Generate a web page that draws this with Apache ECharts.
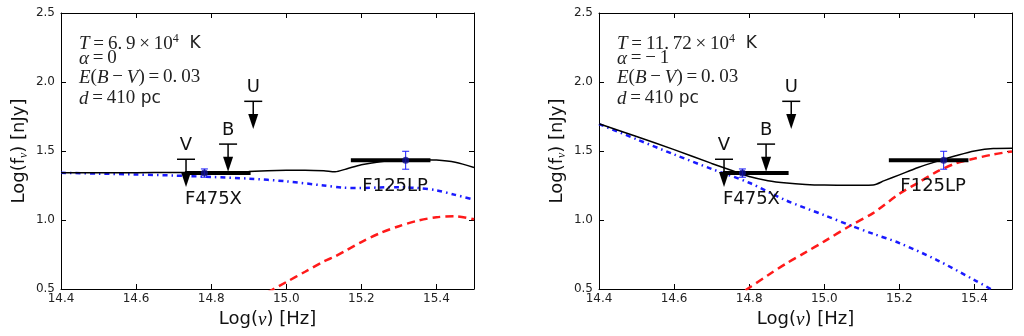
<!DOCTYPE html>
<html>
<head>
<meta charset="utf-8">
<script src="https://cdn.jsdelivr.net/npm/echarts@6/dist/echarts.min.js"></script>
<style>
  html, body { margin: 0; padding: 0; background: #fff; }
  #chart { width: 1024px; height: 336px; }
</style>
</head>
<body>
<div id="chart"></div>
<script>
// ---- Model A: T = 6.9e4 K, alpha = 0 (log10 nu [Hz], log10 f_nu [nJy]) ----
const nuTotalA   = [14.4, 14.5, 14.6, 14.7, 14.8, 14.9, 15.0, 15.05, 15.1, 15.13, 15.16, 15.2, 15.25, 15.3, 15.35, 15.4, 15.45, 15.5];
const fluxTotalA = [1.342, 1.342, 1.343, 1.344, 1.346, 1.352, 1.36, 1.361, 1.357, 1.35, 1.37, 1.40, 1.422, 1.433, 1.437, 1.434, 1.418, 1.38];
const nuPowA     = [14.4, 14.5, 14.6, 14.7, 14.8, 14.9, 15.0, 15.1, 15.15, 15.2, 15.25, 15.3, 15.35, 15.4, 15.45, 15.5];
const fluxPowA   = [1.342, 1.336, 1.33, 1.322, 1.312, 1.30, 1.28, 1.25, 1.235, 1.232, 1.236, 1.238, 1.232, 1.215, 1.182, 1.148];
const nuBbA      = [14.95, 15.0, 15.05, 15.1, 15.13, 15.16, 15.2, 15.25, 15.3, 15.35, 15.4, 15.45, 15.5];
const fluxBbA    = [0.475, 0.55, 0.625, 0.70, 0.736, 0.78, 0.84, 0.905, 0.955, 0.995, 1.02, 1.027, 1.005];

// ---- Model B: T = 11.72e4 K, alpha = -1 ----
const nuTotalB   = [14.4, 14.5, 14.6, 14.7, 14.75, 14.8, 14.85, 14.9, 14.95, 15.0, 15.05, 15.1, 15.13, 15.16, 15.2, 15.25, 15.3, 15.35, 15.4, 15.45, 15.5];
const fluxTotalB = [1.698, 1.605, 1.51, 1.41, 1.362, 1.315, 1.285, 1.268, 1.258, 1.253, 1.252, 1.252, 1.254, 1.285, 1.327, 1.38, 1.425, 1.465, 1.50, 1.518, 1.52];
const nuPowB     = [14.4, 14.5, 14.6, 14.7, 14.8, 14.9, 15.0, 15.07, 15.13, 15.2, 15.3, 15.4, 15.45];
const fluxPowB   = [1.695, 1.585, 1.475, 1.37, 1.27, 1.14, 1.035, 0.96, 0.90, 0.833, 0.71, 0.565, 0.49];
const nuBbB      = [14.79, 14.85, 14.9, 14.95, 15.0, 15.07, 15.13, 15.2, 15.25, 15.3, 15.35, 15.4, 15.45, 15.5];
const fluxBbB    = [0.49, 0.60, 0.687, 0.765, 0.845, 0.96, 1.05, 1.19, 1.27, 1.35, 1.41, 1.445, 1.475, 1.497];

// ---- Photometry (shared by both panels) ----
const limitBands = ['V', 'B', 'U'];
const limitNu    = [14.733, 14.845, 14.912];
const limitFlux  = [1.44, 1.55, 1.86];
const limitDrop  = 0.2;                      // arrow length, dex

const detBands   = ['F475X', 'F125LP'];
const detNu      = [14.782, 15.318];
const detFlux    = [1.34, 1.433];
const detErr     = [0.03, 0.065];
const detNuLo    = [14.73, 15.172];          // filter bandwidth
const detNuHi    = [14.905, 15.384];
const detLabelNu   = [14.806, 15.29];
const detLabelFlux = [1.147, 1.243];

// ---- Fit parameters per panel ----
const panelTemp  = ['6.9', '11.72'];
const panelAlpha = ['0', '\u2212\u20091'];
const panelEbv   = ['0.03', '0.03'];
const panelDist  = ['410', '410'];

const zip = (xs, ys) => xs.map((x, i) => [x, ys[i]]);

const grids = [
  { left: 61, top: 13, width: 413, height: 276 },
  { left: 599, top: 13, width: 413, height: 276 }
];

const panels = [
  { total: zip(nuTotalA, fluxTotalA), pow: zip(nuPowA, fluxPowA), bb: zip(nuBbA, fluxBbA) },
  { total: zip(nuTotalB, fluxTotalB), pow: zip(nuPowB, fluxPowB), bb: zip(nuBbB, fluxBbB) }
];

const tickFont = { fontFamily: 'DejaVu Sans', fontSize: 12, color: '#222' };
const axisLineStyle = { lineStyle: { color: '#000', width: 1 } };
const tickStyle = { inside: true, length: 5, lineStyle: { color: '#000', width: 1 } };
const fmt = v => Number(v).toFixed(1);

const xAxes = [], yAxes = [];
// bottom / left axes with labels
grids.forEach((g, i) => {
  xAxes.push({
    type: 'value', gridIndex: i, min: 14.4, max: 15.5, interval: 0.2,
    position: 'bottom',
    axisLine: axisLineStyle, axisTick: tickStyle, splitLine: { show: false },
    axisLabel: Object.assign({ formatter: fmt, showMaxLabel: false, margin: 4 }, tickFont),
    name: '{a|Log(}{nu|\u03bd}{a|) [Hz]}', nameLocation: 'middle', nameGap: 21,
    nameTextStyle: {
      rich: {
        a: { fontFamily: 'DejaVu Sans', fontSize: 18, color: '#111' },
        nu: { fontFamily: 'Liberation Serif', fontStyle: 'italic', fontSize: 19, color: '#111' }
      }
    }
  });
  yAxes.push({
    type: 'value', gridIndex: i, min: 0.5, max: 2.5, interval: 0.5,
    position: 'left',
    axisLine: axisLineStyle, axisTick: tickStyle, splitLine: { show: false },
    axisLabel: Object.assign({ formatter: fmt, margin: 6 }, tickFont),
    name: '{a|Log(f}{sub|\u03bd}{a|) [nJy]}', nameLocation: 'middle', nameGap: 31,
    nameTextStyle: {
      rich: {
        a: { fontFamily: 'DejaVu Sans', fontSize: 18, color: '#111' },
        sub: { fontFamily: 'Liberation Serif', fontStyle: 'italic', fontSize: 12, color: '#111', padding: [9, 0, 0, 0] }
      }
    }
  });
});
// mirrored top / right axes carrying only ticks
grids.forEach((g, i) => {
  xAxes.push({
    type: 'value', gridIndex: i, min: 14.4, max: 15.5, interval: 0.2, position: 'top',
    axisLine: axisLineStyle, axisTick: tickStyle, axisLabel: { show: false }, splitLine: { show: false }
  });
  yAxes.push({
    type: 'value', gridIndex: i, min: 0.5, max: 2.5, interval: 0.5, position: 'right',
    axisLine: axisLineStyle, axisTick: tickStyle, axisLabel: { show: false }, splitLine: { show: false }
  });
});

function limitRender(params, api) {
  const x = api.value(0), y = api.value(1);
  const cap = api.coord([x, y]);
  const tip = api.coord([x, y - limitDrop]);
  const headH = 15, headW = 5;
  return {
    type: 'group',
    children: [
      { type: 'line', shape: { x1: cap[0] - 9, y1: cap[1], x2: cap[0] + 9, y2: cap[1] },
        style: { stroke: '#000', lineWidth: 1.5 } },
      { type: 'line', shape: { x1: cap[0], y1: cap[1], x2: cap[0], y2: tip[1] - headH + 1 },
        style: { stroke: '#000', lineWidth: 1.5 } },
      { type: 'polygon', shape: { points: [[cap[0] - headW, tip[1] - headH], [cap[0] + headW, tip[1] - headH], [cap[0], tip[1]]] },
        style: { fill: '#000' } },
      { type: 'text', x: cap[0], y: cap[1] - 14,
        style: { text: limitBands[params.dataIndex], align: 'center', verticalAlign: 'middle',
                 fontFamily: 'DejaVu Sans', fontSize: 18, fill: '#111' } }
    ]
  };
}

function errRender(params, api) {
  const x = api.value(0), y = api.value(1), e = api.value(2);
  const lo = api.coord([x, y - e]);
  const hi = api.coord([x, y + e]);
  const style = { stroke: '#1a1aff', lineWidth: 1 };
  return {
    type: 'group',
    children: [
      { type: 'line', shape: { x1: lo[0], y1: lo[1], x2: hi[0], y2: hi[1] }, style },
      { type: 'line', shape: { x1: lo[0] - 3.5, y1: lo[1], x2: lo[0] + 3.5, y2: lo[1] }, style },
      { type: 'line', shape: { x1: hi[0] - 3.5, y1: hi[1], x2: hi[0] + 3.5, y2: hi[1] }, style }
    ]
  };
}

function bandRender(params, api) {
  const a = api.coord([api.value(0), api.value(2)]);
  const b = api.coord([api.value(1), api.value(2)]);
  return { type: 'line', shape: { x1: a[0], y1: a[1], x2: b[0], y2: b[1] },
           style: { stroke: '#000', lineWidth: 4 } };
}

function labelRender(params, api) {
  const p = api.coord([api.value(0), api.value(1)]);
  return { type: 'text', x: p[0], y: p[1],
           style: { text: detBands[params.dataIndex], align: 'center', verticalAlign: 'middle',
                    fontFamily: 'DejaVu Sans', fontSize: 18, fill: '#111' } };
}

const series = [];
panels.forEach((p, i) => {
  const ax = { xAxisIndex: i, yAxisIndex: i };
  series.push(Object.assign({
    type: 'line', data: p.bb, showSymbol: false, smooth: 0.3, clip: true, z: 2,
    lineStyle: { color: '#ff1a1a', width: 2.5, type: [8, 5] }
  }, ax));
  series.push(Object.assign({
    type: 'line', data: p.pow, showSymbol: false, smooth: 0.3, clip: true, z: 2,
    lineStyle: { color: '#1a1aff', width: 2.5, type: [5, 4, 1.5, 4] }
  }, ax));
  series.push(Object.assign({
    type: 'line', data: p.total, showSymbol: false, smooth: 0.3, clip: true, z: 3,
    lineStyle: { color: '#000', width: 1.5 }
  }, ax));
  series.push(Object.assign({
    type: 'custom', renderItem: bandRender, z: 4,
    data: detNu.map((_, k) => [detNuLo[k], detNuHi[k], detFlux[k]])
  }, ax));
  series.push(Object.assign({
    type: 'custom', renderItem: errRender, z: 5,
    data: detNu.map((x, k) => [x, detFlux[k], detErr[k]])
  }, ax));
  series.push(Object.assign({
    type: 'scatter', data: zip(detNu, detFlux), symbol: 'circle', symbolSize: 7, z: 6,
    itemStyle: { color: '#10108a' }
  }, ax));
  series.push(Object.assign({
    type: 'custom', renderItem: limitRender, z: 6,
    data: zip(limitNu, limitFlux)
  }, ax));
  series.push(Object.assign({
    type: 'custom', renderItem: labelRender, z: 7,
    data: zip(detLabelNu, detLabelFlux)
  }, ax));
});

// Fit-parameter annotations in the upper-left of each panel
const mathRich = {
  i:   { fontFamily: 'Liberation Serif', fontStyle: 'italic', fontSize: 19, fill: '#222' },
  n:   { fontFamily: 'Liberation Serif', fontSize: 19, fill: '#222' },
  s:   { fontFamily: 'DejaVu Sans', fontSize: 17, fill: '#222' },
  sup: { fontFamily: 'Liberation Serif', fontSize: 12, fill: '#222', padding: [0, 0, 10, 0] }
};
const graphic = [];
grids.forEach((g, i) => {
  const x0 = g.left + 18;
  const lines = [
    { y: 33, text: '{i|T}{n|\u2009=\u2009' + panelTemp[i].replace('.', '.\u2009') + '\u2009\u00d7\u200910}{sup|4}{s|  K}' },
    { y: 49, text: '{i|\u03b1}{n|\u2009=\u2009' + panelAlpha[i] + '}' },
    { y: 68, text: '{i|E}{n|(}{i|B}{n|\u2009\u2212\u2009}{i|V}{n|)\u2009=\u2009' + panelEbv[i].replace('.', '.\u2009') + '}' },
    { y: 89, text: '{i|d}{n|\u2009=\u2009' + panelDist[i] + '}{s| pc}' }
  ];
  lines.forEach(l => {
    graphic.push({
      type: 'text', left: x0, top: l.y, z: 10,
      style: { text: l.text, rich: mathRich, verticalAlign: 'middle', fill: '#222' }
    });
  });
});

const chart = echarts.init(document.getElementById('chart'), null, { renderer: 'canvas' });
chart.setOption({
  animation: false,
  backgroundColor: '#fff',
  grid: grids,
  xAxis: xAxes,
  yAxis: yAxes,
  series,
  graphic
});
</script>
</body>
</html>
